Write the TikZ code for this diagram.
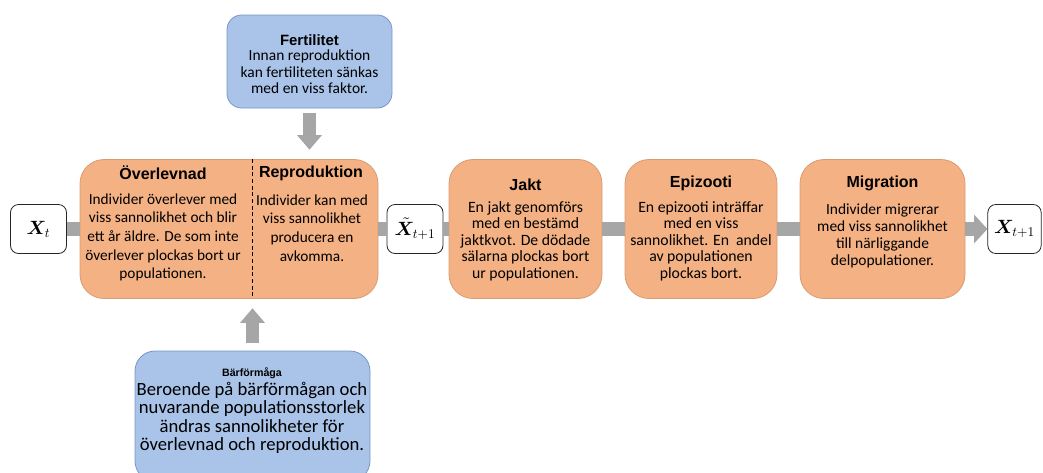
\documentclass[tikz,border=0pt]{standalone}
\usepackage{amsmath}
\usepackage{bm}
\usepackage{fontspec}
\setmainfont{Carlito}
\newfontfamily\headfont{Liberation Sans}
\usetikzlibrary{arrows.meta}

\definecolor{orangefill}{RGB}{244,177,131}
\definecolor{orangeline}{RGB}{214,156,116}
\definecolor{bluefill}{RGB}{169,196,232}
\definecolor{blueline}{RGB}{120,150,200}
\definecolor{bandgray}{RGB}{166,166,166}

\tikzset{
  stage/.style={draw=orangeline, fill=orangefill, line width=0.6pt, rounded corners=18pt, minimum height=104.25pt},
  factor/.style={draw=blueline, fill=bluefill, line width=0.6pt},
  state/.style={draw=black!85, fill=white, line width=0.6pt, rounded corners=6pt, inner sep=0pt,
    minimum width=42pt, minimum height=36.75pt, font=\fontsize{14}{16}\selectfont},
  ttl/.style={inner sep=0pt, font=\headfont\bfseries\fontsize{12}{14}\selectfont},
  txt/.style={inner sep=0pt, align=center},
  band/.style={draw=bandgray, line width=11pt},
  push/.style={draw=bandgray, line width=10pt, -{Triangle[width=18pt,length=11pt]}},
}

\begin{document}
\begin{tikzpicture}[x=0.75pt, y=-0.75pt]
  \useasboundingbox (0,0) rectangle (1043,472);

  % states
  \node[state] (xt) at (38.5,229) {$\bm{X}_t$};
  \node[state] (xtil) at (415,229) {$\tilde{\bm{X}}_{t+1}$};
  \node[state, minimum width=40pt] (xnext) at (1014.5,229) {$\bm{X}_{t+1}$};

  % stages
  \node[stage, minimum width=223.5pt] (surv) at (229,229) {};
  \node[stage, minimum width=114.75pt] (jakt) at (525.5,229) {};
  \node[stage, minimum width=114pt] (epi) at (701,229) {};
  \node[stage, minimum width=123.75pt] (mig) at (882.5,229) {};

  % outside factors
  \node[factor, rounded corners=11pt, minimum width=123.75pt, minimum height=69.75pt] (fert) at (309.5,61.5) {};
  \node[factor, rounded corners=15pt, minimum width=176.25pt, minimum height=97.5pt] (barf) at (252.5,416) {};

  % connectors
  \draw[band] (xt) -- (surv);
  \draw[band] (surv) -- (xtil);
  \draw[band] (xtil) -- (jakt);
  \draw[band] (jakt) -- (epi);
  \draw[band] (epi) -- (mig);
  \draw[band, -{Triangle[width=21pt,length=10pt]}] (mig) -- (xnext);
  \draw[push, shorten <=3.5pt, shorten >=7pt] (fert.south) -- (fert.south |- surv.north);
  \draw[push, shorten <=6pt, shorten >=7pt] (barf.north) -- (barf.north |- surv.south);

  % divider between survival and reproduction
  \draw[densely dashed, line width=0.6pt] (252,159) -- (252,298.5);

  % texts
  \node[ttl] (survttl) at (163,173) {Överlevnad};
  \node[txt, font=\fontsize{11.5}{14}\selectfont] (survtxt) at (163,237.5)
    {Individer överlever med\\viss sannolikhet och blir\\ett år äldre. De som inte\\överlever plockas bort ur\\populationen.};
  \node[ttl] (repttl) at (311,173) {Reproduktion};
  \node[txt, font=\fontsize{11.5}{14}\selectfont] (reptxt) at (312,228)
    {Individer kan med\\viss sannolikhet\\producera en\\avkomma.};

  \node[ttl] (jaktttl) at (525.5,185) {Jakt};
  \node[txt, font=\fontsize{11.8}{12.3}\selectfont] (jakttxt) at (525.5,241)
    {En jakt genomförs\\med en bestämd\\jaktkvot. De dödade\\sälarna plockas bort\\ur populationen.};

  \node[ttl] (epittl) at (701,183) {Epizooti};
  \node[txt, font=\fontsize{11.8}{12.4}\selectfont] (epitxt) at (701,241)
    {En epizooti inträffar\\med en viss\\sannolikhet. En~~andel\\av populationen\\plockas bort.};

  \node[ttl] (migttl) at (882.5,183) {Migration};
  \node[txt, font=\fontsize{11.6}{12.9}\selectfont] (migtxt) at (882.5,236)
    {Individer migrerar\\med viss sannolikhet\\till närliggande\\delpopulationer.};

  \node[ttl, font=\headfont\bfseries\fontsize{11.2}{13}\selectfont] (fertttl) at (309.5,40.5) {Fertilitet};
  \node[txt, font=\fontsize{11.6}{12.5}\selectfont] (ferttxt) at (309.5,72)
    {Innan reproduktion\\kan fertiliteten sänkas\\med en viss faktor.};

  \node[ttl, font=\headfont\bfseries\fontsize{8}{10}\selectfont] (barfttl) at (252,373) {Bärförmåga};
  \node[txt, font=\fontsize{14}{13.7}\selectfont] (barftxt) at (252,418)
    {Beroende på bärförmågan och\\nuvarande populationsstorlek\\ändras sannolikheter för\\överlevnad och reproduktion.};
\end{tikzpicture}
\end{document}
